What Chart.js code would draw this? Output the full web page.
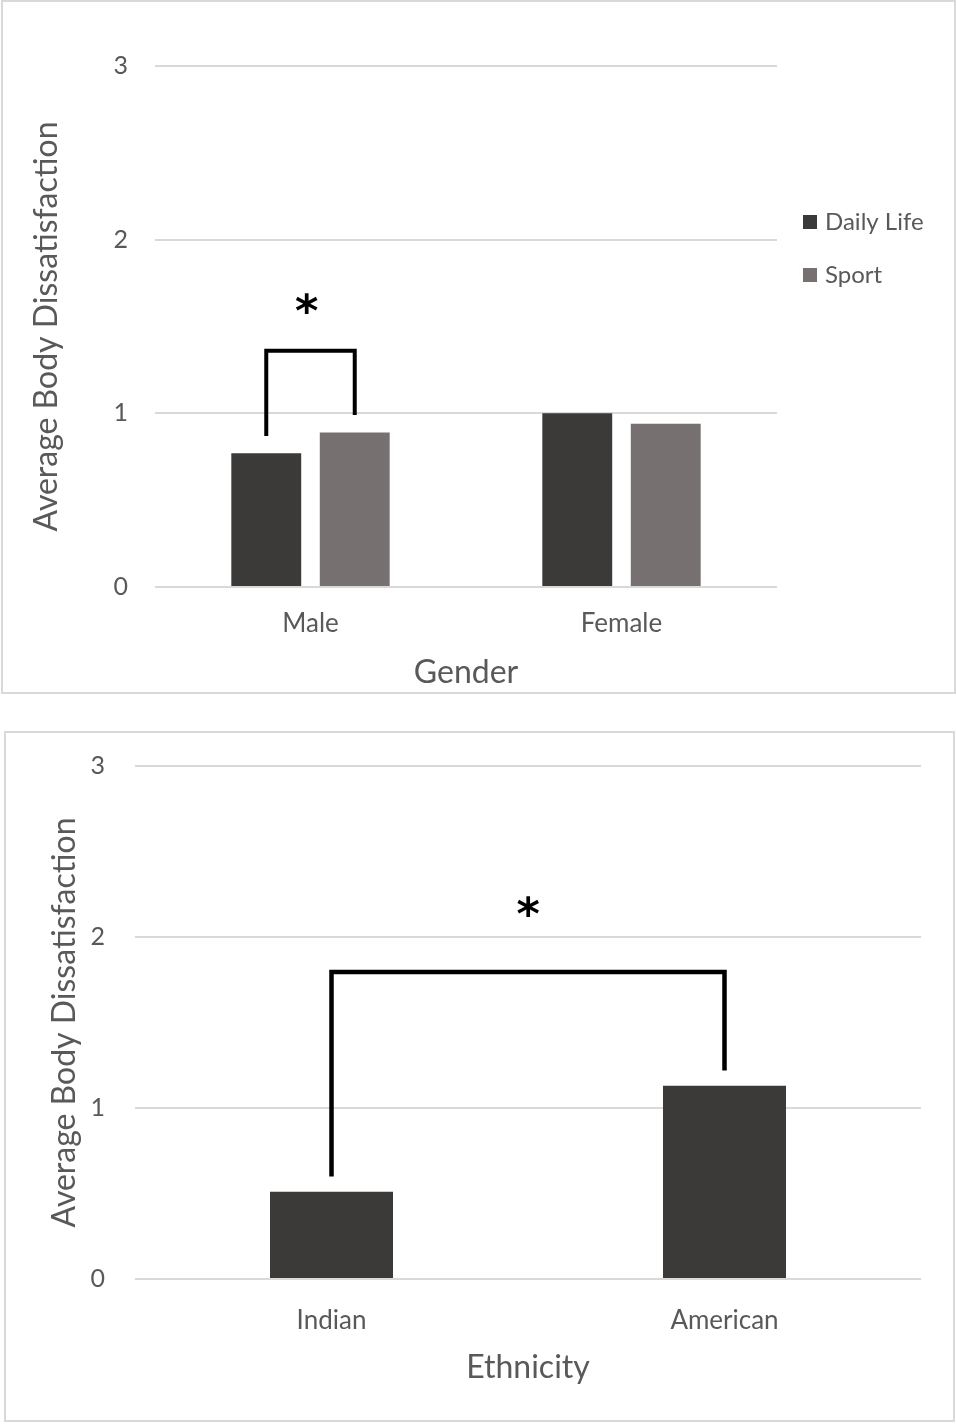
<!DOCTYPE html>
<html>
<head>
<meta charset="utf-8">
<script src="https://cdn.jsdelivr.net/npm/chart.js@4.4.1/dist/chart.umd.min.js"></script>
<style>
  html, body { margin: 0; padding: 0; background: #fff; }
  .panel { position: absolute; box-sizing: border-box; border: 2px solid #d9d9d9; background: #fff; }
  #p1 { left: 1px; top: 0; width: 955px; height: 694px; }
  #p2 { left: 4px; top: 731px; width: 951px; height: 691px; }
  canvas { display: block; }
</style>
</head>
<body>
<div class="panel" id="p1"><canvas id="genderChart" width="951" height="690"></canvas></div>
<div class="panel" id="p2"><canvas id="ethnicityChart" width="947" height="687"></canvas></div>
<script>
// Average body dissatisfaction by gender (daily life vs sport context)
const genderCategories = ['Male', 'Female'];
const dailyLifeValues = [0.77, 1.00];
const sportValues = [0.89, 0.94];

// Average body dissatisfaction by ethnicity
const ethnicityCategories = ['Indian', 'American'];
const ethnicityValues = [0.51, 1.13];

// Shared y-axis ticks
const yTickValues = [0, 1, 2, 3];

const FONT = 'Lato, "Open Sans", sans-serif';
const TEXT = '#595959';
const GRID = '#d9d9d9';
const DARK = '#3b3a38';
const MID = '#767170';

// Significance brackets: leg heights are offsets above the bar values,
// "top" is the bracket crossbar value and "star" the asterisk value.
const genderBrackets = [
  { from: [0, 0], to: [1, 0], gap: 0.10, top: 1.36, star: 1.635, width: 4, dx: -4 }
];
const ethnicityBrackets = [
  { from: [0, 0], to: [0, 1], gap: 0.09, top: 1.795, star: 2.18, width: 4.5, dx: 0 }
];

const significance = {
  id: 'significance',
  afterDatasetsDraw(chart, args, opts) {
    const { ctx } = chart;
    const y = chart.scales.y;
    (opts.brackets || []).forEach(b => {
      const pa = chart.getDatasetMeta(b.from[0]).data[b.from[1]];
      const pb = chart.getDatasetMeta(b.to[0]).data[b.to[1]];
      const va = chart.data.datasets[b.from[0]].data[b.from[1]];
      const vb = chart.data.datasets[b.to[0]].data[b.to[1]];
      const yTop = y.getPixelForValue(b.top);
      ctx.save();
      ctx.strokeStyle = '#000';
      ctx.lineWidth = b.width;
      ctx.lineJoin = 'miter';
      ctx.lineCap = 'butt';
      ctx.beginPath();
      ctx.moveTo(pa.x, y.getPixelForValue(va + b.gap));
      ctx.lineTo(pa.x, yTop);
      ctx.lineTo(pb.x, yTop);
      ctx.lineTo(pb.x, y.getPixelForValue(vb + b.gap));
      ctx.stroke();

      // asterisk sized to about 21px glyph height, centred on its value
      ctx.font = 'bold 100px "DejaVu Sans"';
      let m = ctx.measureText('*');
      const h100 = m.actualBoundingBoxAscent + m.actualBoundingBoxDescent;
      const size = 100 * 21 / h100;
      ctx.font = 'bold ' + size + 'px "DejaVu Sans"';
      m = ctx.measureText('*');
      const cx = (pa.x + pb.x) / 2 + b.dx;
      const cy = y.getPixelForValue(b.star);
      const gx = cx - (m.actualBoundingBoxRight - m.actualBoundingBoxLeft) / 2 + m.actualBoundingBoxLeft;
      const gy = cy + (m.actualBoundingBoxAscent - m.actualBoundingBoxDescent) / 2;
      ctx.fillStyle = '#000';
      ctx.textAlign = 'left';
      ctx.textBaseline = 'alphabetic';
      ctx.fillText('*', gx, gy);
      ctx.restore();
    });
  }
};

// Legend to the right of the plot area
const sideLegend = {
  id: 'sideLegend',
  afterDraw(chart, args, opts) {
    if (!opts.show) return;
    const { ctx, chartArea } = chart;
    ctx.save();
    ctx.font = '24px ' + FONT;
    ctx.textBaseline = 'middle';
    ctx.textAlign = 'left';
    chart.data.datasets.forEach((ds, i) => {
      const cy = opts.top + i * opts.spacing;
      const x0 = chartArea.right + opts.offset;
      ctx.fillStyle = ds.backgroundColor;
      ctx.fillRect(x0, cy - 7, 14, 14);
      ctx.fillStyle = TEXT;
      ctx.fillText(ds.label, x0 + 22, cy);
    });
    ctx.restore();
  }
};

function yAxis(width, tickPad, titlePad) {
  return {
    min: 0, max: 3,
    afterBuildTicks: s => { s.ticks = yTickValues.map(v => ({ value: v })); },
    afterFit: s => { s.width = width; s.paddingTop = 0; s.paddingBottom = 0; },
    grid: { color: GRID, lineWidth: 2, drawTicks: false },
    border: { display: false },
    ticks: { color: TEXT, font: { family: FONT, size: 25 }, padding: tickPad },
    title: {
      display: true, text: 'Average Body Dissatisfaction', color: TEXT,
      font: { family: FONT, size: 32 }, padding: { top: titlePad, bottom: 0 }
    }
  };
}

function xAxis(height, tickPad, title, titlePad) {
  return {
    afterFit: s => { s.height = height; s.paddingLeft = 0; s.paddingRight = 0; },
    grid: { display: false, drawTicks: false },
    border: { display: false },
    ticks: { color: TEXT, font: { family: FONT, size: 26 }, padding: tickPad, maxRotation: 0 },
    title: {
      display: true, text: title, color: TEXT,
      font: { family: FONT, size: 32 }, padding: { top: 0, bottom: titlePad }
    }
  };
}

new Chart(document.getElementById('genderChart'), {
  type: 'bar',
  data: {
    labels: genderCategories,
    datasets: [
      { label: 'Daily Life', data: dailyLifeValues, backgroundColor: DARK,
        categoryPercentage: 0.569, barPercentage: 0.79 },
      { label: 'Sport', data: sportValues, backgroundColor: MID,
        categoryPercentage: 0.569, barPercentage: 0.79 }
    ]
  },
  options: {
    responsive: false,
    animation: false,
    devicePixelRatio: 1,
    layout: { padding: { left: 0, top: 64, right: 177, bottom: 0 } },
    scales: {
      x: xAxis(105, 21, 'Gender', 0),
      y: yAxis(152, 27, 24)
    },
    plugins: {
      legend: { display: false },
      tooltip: { enabled: false },
      significance: { brackets: genderBrackets },
      sideLegend: { show: true, top: 220, spacing: 53, offset: 26 }
    }
  },
  plugins: [significance, sideLegend]
});

new Chart(document.getElementById('ethnicityChart'), {
  type: 'bar',
  data: {
    labels: ethnicityCategories,
    datasets: [
      { label: 'Average Body Dissatisfaction', data: ethnicityValues, backgroundColor: DARK,
        categoryPercentage: 1, barPercentage: 0.313 }
    ]
  },
  options: {
    responsive: false,
    animation: false,
    devicePixelRatio: 1,
    layout: { padding: { left: 0, top: 33, right: 32, bottom: 0 } },
    scales: {
      x: xAxis(141, 26, 'Ethnicity', 33),
      y: yAxis(129, 30, 39)
    },
    plugins: {
      legend: { display: false },
      tooltip: { enabled: false },
      significance: { brackets: ethnicityBrackets },
      sideLegend: { show: false }
    }
  },
  plugins: [significance, sideLegend]
});
</script>
</body>
</html>
